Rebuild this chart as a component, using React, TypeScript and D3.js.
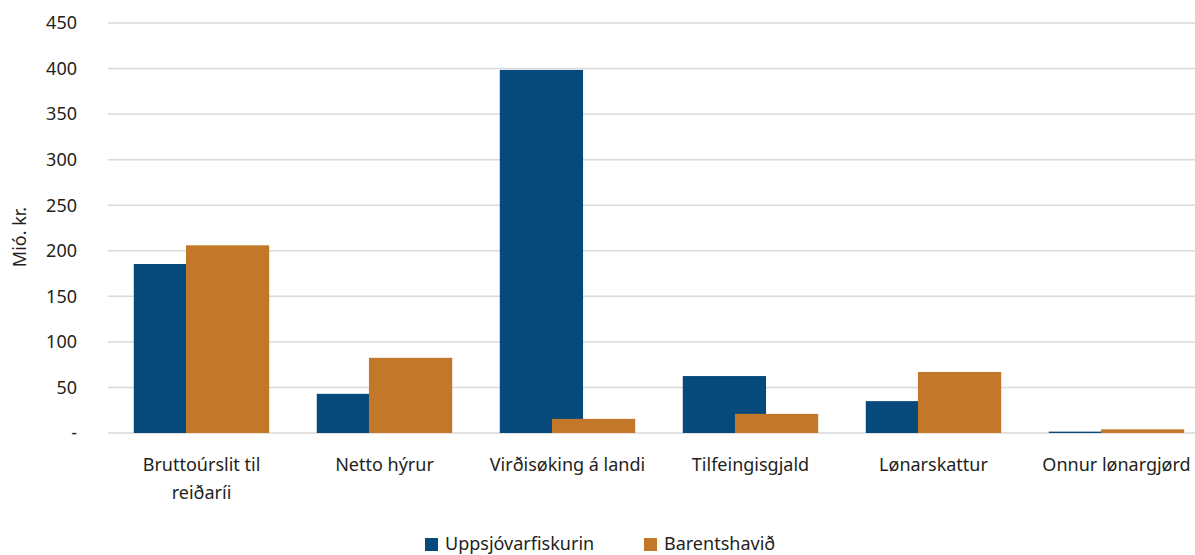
import React, { useEffect, useRef } from 'react';
import * as d3 from 'd3';

const categories = [
  'Bruttoúrslit til reiðaríi',
  'Netto hýrur',
  'Virðisøking á landi',
  'Tilfeingisgjald',
  'Lønarskattur',
  'Onnur lønargjørd',
];
const seriesNames = ['Uppsjóvarfiskurin', 'Barentshavið'];
const uppsjovar = [185.5, 43, 398.5, 62.5, 35, 1.5];
const barents = [206, 82.5, 15.5, 21, 67, 4];
const yTicks = [0, 50, 100, 150, 200, 250, 300, 350, 400, 450];

const colors = ['#064a7c', '#c27729'];
const font = '"Noto Sans", "Open Sans", sans-serif';
const textColor = '#231f20';

export default function App() {
  const svgRef = useRef<SVGSVGElement>(null);

  useEffect(() => {
    if (!svgRef.current) return;
    const svg = d3.select(svgRef.current);
    svg.selectAll('*').remove();

    const W = 1195;
    const y = d3.scaleLinear().domain([0, 450]).range([433, 23]);
    const x = d3.scaleBand<string>().domain(categories).range([110, 1208]);
    const band = x.bandwidth();
    const barW = band * 0.455;
    const step = band * 0.285;
    const groupW = barW + step;

    // gridlines
    svg.append('g')
      .selectAll('line')
      .data(yTicks)
      .enter()
      .append('line')
      .attr('x1', 108)
      .attr('x2', W)
      .attr('y1', d => y(d))
      .attr('y2', d => y(d))
      .attr('stroke', '#d9d9d9')
      .attr('stroke-width', 1.5);

    // y tick labels
    svg.append('g')
      .selectAll('text')
      .data(yTicks)
      .enter()
      .append('text')
      .attr('x', 77)
      .attr('y', d => y(d))
      .attr('dy', '0.35em')
      .attr('text-anchor', 'end')
      .attr('font-family', font)
      .attr('font-size', 18)
      .attr('fill', textColor)
      .text(d => (d === 0 ? '-' : String(d)));

    svg.append('text')
      .attr('transform', 'translate(26,237) rotate(-90)')
      .attr('text-anchor', 'middle')
      .attr('font-family', font)
      .attr('font-size', 18)
      .attr('fill', textColor)
      .text('Mió. kr.');

    // bars: blue first, orange drawn on top and overlapping
    const series = [uppsjovar, barents];
    series.forEach((vals, si) => {
      svg.append('g')
        .selectAll('rect')
        .data(categories.map((c, i) => ({ c, v: vals[i] })))
        .enter()
        .append('rect')
        .attr('x', d => x(d.c)! + band / 2 - groupW / 2 + si * step)
        .attr('y', d => y(d.v))
        .attr('width', barW)
        .attr('height', d => y(0) - y(d.v))
        .attr('fill', colors[si]);
    });

    // x labels with wrapping
    const labels = svg.append('g')
      .selectAll('text')
      .data(categories)
      .enter()
      .append('text')
      .attr('x', d => x(d)! + band / 2)
      .attr('y', 471)
      .attr('text-anchor', 'middle')
      .attr('font-family', font)
      .attr('font-size', 18)
      .attr('fill', textColor);

    labels.each(function (d) {
      const t = d3.select(this);
      const cx = x(d)! + band / 2;
      const words = d.split(' ');
      let line: string[] = [];
      let tspan = t.append('tspan').attr('x', cx).attr('dy', 0);
      words.forEach(w => {
        line.push(w);
        tspan.text(line.join(' '));
        if ((tspan.node() as SVGTSpanElement).getComputedTextLength() > 160 && line.length > 1) {
          line.pop();
          tspan.text(line.join(' '));
          line = [w];
          tspan = t.append('tspan').attr('x', cx).attr('dy', 28).text(w);
        }
      });
    });

    // legend
    const legendX = [425, 644];
    seriesNames.forEach((name, i) => {
      svg.append('rect')
        .attr('x', legendX[i])
        .attr('y', 538)
        .attr('width', 13)
        .attr('height', 13)
        .attr('fill', colors[i]);
      svg.append('text')
        .attr('x', legendX[i] + 20)
        .attr('y', 550)
        .attr('font-family', font)
        .attr('font-size', 18)
        .attr('fill', textColor)
        .text(name);
    });
  }, []);

  return (
    <svg
      ref={svgRef}
      width={1195}
      height={555}
      style={{ position: 'absolute', left: 0, top: 0, background: '#fff' }}
    />
  );
}
